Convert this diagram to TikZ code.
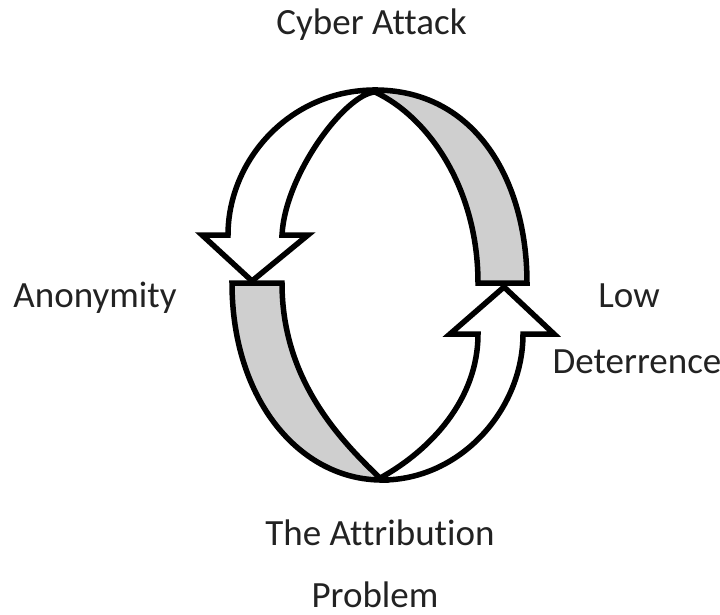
\documentclass[tikz,border=0pt]{standalone}
\usepackage{fontspec}
\setmainfont{Carlito}[Ligatures={NoCommon}]
\definecolor{bandgray}{HTML}{CFCFCF}
\definecolor{txt}{HTML}{222222}
\begin{document}
\begin{tikzpicture}[x=1pt,y=-1pt,
  band/.style={draw=black,line width=5.5pt,line join=miter},
  grayband/.style={band,fill=bandgray},
  whitearrow/.style={band,fill=white},
  lbl/.style={anchor=base,inner sep=0pt,text=txt,font=\fontsize{37}{44}\selectfont}]
\useasboundingbox (0,0) rectangle (720,615);
% top-right gray band
\path[grayband] (375,90) .. controls (475,90) and (527,180) .. (527,283)
  -- (478,283) .. controls (478,190) and (430,118) .. (375,92) -- cycle;
% bottom-left gray band
\path[grayband] (232,283) .. controls (232,400) and (300,480) .. (382,480)
  .. controls (340,440) and (282,380) .. (282,283) -- cycle;
% top-left white arrow
\path[whitearrow] (375,90) .. controls (290,90) and (228,160) .. (228,235)
  -- (202,235) -- (252,281) -- (308,235) -- (282,235)
  .. controls (285,175) and (345,94) .. (375,92) -- cycle;
% bottom-right white arrow
\path[whitearrow] (382,480) .. controls (460,480) and (523,410) .. (523,334)
  -- (554,334) -- (504,287) -- (450,334) -- (478,334)
  .. controls (478,400) and (430,450) .. (382,477) -- cycle;
% labels
\node[lbl] (cyber) at (371.5,35) {Cyber Attack};
\node[lbl] (anon) at (95,307) {Anonymity};
\node[lbl] (low) at (629,307) {Low};
\node[lbl] (deter) at (637,373) {Deterrence};
\node[lbl] (attr) at (380,545) {The Attribution};
\node[lbl] (prob) at (375,607) {Problem};
\end{tikzpicture}
\end{document}
